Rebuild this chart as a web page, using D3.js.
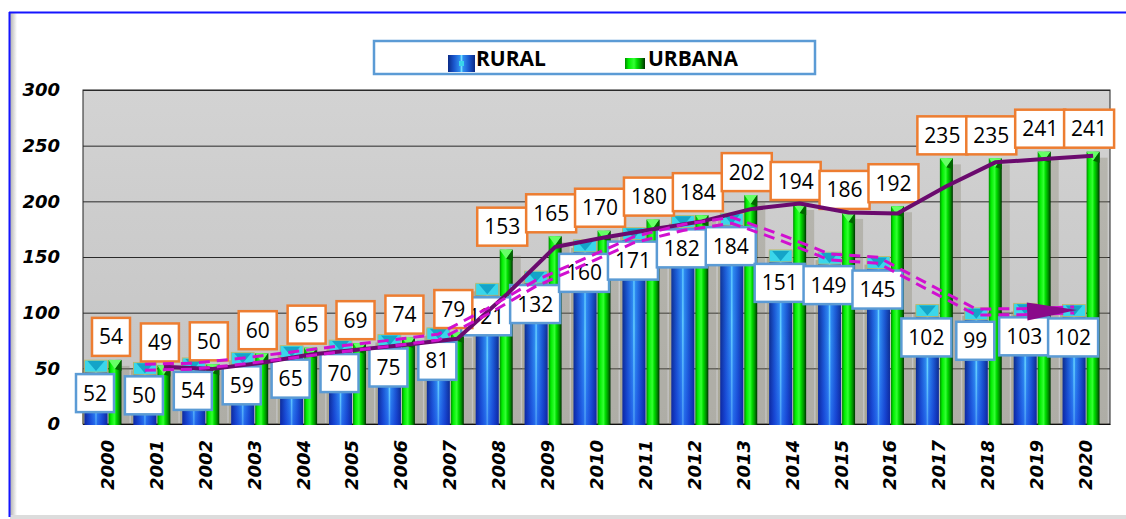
<!DOCTYPE html>
<html lang="es">
  <head>
    <meta charset="UTF-8" />
    <title>Rural / Urbana 2000-2020</title>
    <script src="https://d3js.org/d3.v7.min.js"></script>
    <style>
      body { margin: 0; background: #fff; }
      .ytick text, .xtick text {
        font-family: "DejaVu Sans", sans-serif;
        font-weight: bold;
        font-style: italic;
        font-size: 18px;
        fill: #000;
      }
      .grid line { stroke: #2a2a2a; stroke-width: 1; }
      .lbl text { font-family: "Open Sans", sans-serif; font-size: 21px; fill: #000; }
      .legend text { font-family: "Open Sans", sans-serif; font-weight: bold; font-size: 21px; }
    </style>
  </head>
  <body>
    <svg width="1126" height="519"></svg>
    <script>
      const width = 1126;
      const height = 519;

      // datos
      const years = ["2000", "2001", "2002", "2003", "2004", "2005", "2006", "2007", "2008", "2009",
        "2010", "2011", "2012", "2013", "2014", "2015", "2016", "2017", "2018", "2019", "2020"];
      const rural = [52, 50, 54, 59, 65, 70, 75, 81, 121, 132, 160, 171, 182, 184, 151, 149, 145, 102, 99, 103, 102];
      const urbana = [54, 49, 50, 60, 65, 69, 74, 79, 153, 165, 170, 180, 184, 202, 194, 186, 192, 235, 235, 241, 241];
      const yTicks = [0, 50, 100, 150, 200, 250, 300];

      const plot = { left: 83, right: 1110, top: 90, bottom: 424 };

      const svg = d3.select("svg");

      const x = d3.scaleBand().domain(years).range([plot.left, plot.right]).padding(0);
      const y = d3.scaleLinear().domain([0, 300]).range([plot.bottom, plot.top]);

      // posiciones dentro de cada categoria
      const blueX = (d) => x(d) + 1.5;
      const blueW = 23;
      const greenX = (d) => x(d) + 25.5;
      const greenW = 13;

      const defs = svg.append("defs");
      function grad(id, stops, vertical) {
        const g = defs.append("linearGradient").attr("id", id)
          .attr("x1", 0).attr("y1", 0)
          .attr("x2", vertical ? 0 : 1).attr("y2", vertical ? 1 : 0);
        stops.forEach((s) => g.append("stop").attr("offset", s[0]).attr("stop-color", s[1]).attr("stop-opacity", s[2] ?? 1));
      }
      grad("plotBg", [[0, "#d3d3d3"], [1, "#c3c3c3"]], true);
      grad("blueH", [[0, "#0b2a86"], [0.22, "#1a56cc"], [0.44, "#2f8ef0"], [0.5, "#6fe0ff"], [0.56, "#2f8ef0"], [0.78, "#1a56cc"], [1, "#0b2a86"]]);
      grad("blueV", [[0, "#30c0ff", 0.3], [0.5, "#2040ff", 0.05], [1, "#1020e0", 0.35]], true);
      grad("greenH", [[0, "#008a00"], [0.18, "#00ee00"], [0.45, "#33ff33"], [0.6, "#00dd00"], [0.8, "#009400"], [1, "#003000"]]);
      grad("frameShadow", [[0, "#b0b0b0"], [1, "#ffffff"]]);

      // marco del grafico
      svg.append("rect").attr("x", 10).attr("y", 13).attr("width", 7).attr("height", 503).attr("fill", "url(#frameShadow)");
      svg.append("rect").attr("x", 10).attr("y", 515).attr("width", 1116).attr("height", 4).attr("fill", "#dcdcdc");
      svg.append("line").attr("x1", 9.5).attr("x2", 9.5).attr("y1", 12).attr("y2", 517).attr("stroke", "#1515ff").attr("stroke-width", 2);
      svg.append("line").attr("x1", 9).attr("x2", width).attr("y1", 12.5).attr("y2", 12.5).attr("stroke", "#1515ff").attr("stroke-width", 2);

      // area de trazado
      svg.append("rect")
        .attr("x", plot.left).attr("y", plot.top)
        .attr("width", plot.right - plot.left).attr("height", plot.bottom - plot.top)
        .attr("fill", "url(#plotBg)").attr("stroke", "#222").attr("stroke-width", 1);

      svg.append("g").attr("class", "grid")
        .attr("transform", `translate(${plot.left},0)`)
        .call(d3.axisLeft(y).tickValues(yTicks).tickSize(-(plot.right - plot.left)).tickFormat(""))
        .call((g) => g.select(".domain").remove());

      // eje Y
      svg.append("g").attr("class", "ytick")
        .attr("transform", `translate(${plot.left},0)`)
        .call(d3.axisLeft(y).tickValues(yTicks).tickSize(0).tickPadding(23))
        .call((g) => g.select(".domain").remove());

      // eje X
      svg.append("g").attr("class", "xtick")
        .attr("transform", `translate(0,${plot.bottom})`)
        .call(d3.axisBottom(x).tickSize(0))
        .call((g) => g.select(".domain").attr("stroke", "#111"))
        .selectAll("text")
        .attr("transform", "rotate(-90)")
        .attr("text-anchor", "end")
        .attr("x", -16).attr("y", 0).attr("dy", "0.36em");

      // sombras
      svg.append("g").selectAll("rect").data(years).join("rect")
        .attr("x", (d) => greenX(d) + greenW)
        .attr("y", (d, i) => y(urbana[i]) + 2)
        .attr("width", 8)
        .attr("height", (d, i) => plot.bottom - y(urbana[i]) - 2)
        .attr("fill", "#7d7a62").attr("opacity", 0.3);
      svg.append("g").selectAll("rect").data(years).join("rect")
        .attr("x", (d) => x(d) - 1)
        .attr("y", (d, i) => y(rural[i]) + 2)
        .attr("width", 3)
        .attr("height", (d, i) => plot.bottom - y(rural[i]) - 2)
        .attr("fill", "#8a8660").attr("opacity", 0.45);

      // barras RURAL
      const rb = svg.append("g").selectAll("g").data(years).join("g");
      rb.append("rect")
        .attr("x", blueX).attr("y", (d, i) => y(rural[i]) - 5)
        .attr("width", blueW).attr("height", (d, i) => plot.bottom - y(rural[i]) + 6)
        .attr("fill", "url(#blueH)");
      rb.append("rect")
        .attr("x", blueX).attr("y", (d, i) => y(rural[i]) - 5)
        .attr("width", blueW).attr("height", (d, i) => plot.bottom - y(rural[i]) + 6)
        .attr("fill", "url(#blueV)");
      rb.append("rect")
        .attr("x", blueX).attr("y", (d, i) => y(rural[i]) - 6)
        .attr("width", blueW).attr("height", 12)
        .attr("fill", "#3ad6ea").attr("stroke", "#c8b860").attr("stroke-width", 0.8);
      rb.append("path")
        .attr("d", (d, i) => {
          const x0 = blueX(d), t = y(rural[i]) - 6;
          return `M${x0 + 3},${t + 1}L${x0 + blueW - 3},${t + 1}L${x0 + blueW / 2},${t + 11}Z`;
        })
        .attr("fill", "#14a4c8");

      // barras URBANA
      const gb = svg.append("g").selectAll("g").data(years).join("g");
      gb.append("rect")
        .attr("x", greenX).attr("y", (d, i) => y(urbana[i]) - 4)
        .attr("width", greenW).attr("height", (d, i) => plot.bottom - y(urbana[i]) + 5)
        .attr("fill", "url(#greenH)");
      gb.append("path")
        .attr("d", (d, i) => {
          const x0 = greenX(d), t = y(urbana[i]) - 4;
          return `M${x0},${t}L${x0 + greenW},${t}L${x0 + greenW / 2},${t + 9}Z`;
        })
        .attr("fill", "#66ff66");
      gb.append("path")
        .attr("d", (d, i) => {
          const x0 = greenX(d), t = y(urbana[i]) - 4;
          return `M${x0 + greenW},${t}L${x0 + greenW},${t + 11}L${x0 + greenW / 2},${t + 9}Z`;
        })
        .attr("fill", "#006600");

      // etiquetas de datos
      function labels(vals, cx, dy, color) {
        const g = svg.append("g").attr("class", "lbl").selectAll("g").data(years).join("g")
          .attr("transform", (d, i) => `translate(${cx(d)},${y(vals[i]) + dy})`);
        g.append("rect")
          .attr("x", (d, i) => -(14 + 12 * String(vals[i]).length) / 2)
          .attr("y", -19)
          .attr("width", (d, i) => 14 + 12 * String(vals[i]).length)
          .attr("height", 38)
          .attr("fill", "#fff").attr("stroke", color).attr("stroke-width", 2.5);
        g.append("text")
          .attr("text-anchor", "middle").attr("dy", "0.36em")
          .text((d, i) => vals[i]);
      }
      labels(rural, (d) => blueX(d) + blueW / 2 - 1, 27, "#5b9bd5");
      labels(urbana, (d) => greenX(d) + greenW / 2 - 4, -27, "#ed7d31");

      // medias moviles de 2 periodos
      const maR = years.map((d, i) => (i === 0 ? null : { year: d, v: (rural[i - 1] + rural[i]) / 2 })).filter(Boolean);
      const maU = years.map((d, i) => (i === 0 ? null : { year: d, v: (urbana[i - 1] + urbana[i]) / 2 })).filter(Boolean);

      const lineU = d3.line().x((p) => greenX(p.year) + greenW / 2).y((p) => y(p.v));
      svg.append("path").datum(maU).attr("d", lineU)
        .attr("fill", "none").attr("stroke", "#6b0a6e").attr("stroke-width", 4).attr("stroke-linejoin", "round");

      [-3, 3].forEach((off) => {
        const lineR = d3.line().x((p) => blueX(p.year) + blueW / 2).y((p) => y(p.v) + off);
        svg.append("path").datum(maR).attr("d", lineR)
          .attr("fill", "none").attr("stroke", "#d010d0").attr("stroke-width", 3)
          .attr("stroke-dasharray", "11,7");
      });

      // punta de flecha
      const pA = maR[maR.length - 2], pB = maR[maR.length - 1];
      const ax = blueX(pB.year) + blueW / 2 + 3, ay = y(pB.v);
      const ang = Math.atan2(y(pB.v) - y(pA.v), (blueX(pB.year) - blueX(pA.year))) * 180 / Math.PI;
      svg.append("path")
        .attr("d", "M0,0L-50,-9L-50,9Z")
        .attr("transform", `translate(${ax},${ay}) rotate(${ang})`)
        .attr("fill", "#8a0a8a");

      // leyenda
      const leg = svg.append("g").attr("class", "legend");
      leg.append("rect").attr("x", 374).attr("y", 41).attr("width", 441).attr("height", 33)
        .attr("fill", "#fff").attr("stroke", "#5b9bd5").attr("stroke-width", 2.5);
      leg.append("rect").attr("x", 448).attr("y", 55).attr("width", 27).attr("height", 17).attr("fill", "url(#blueH)");
      leg.append("rect").attr("x", 459).attr("y", 61).attr("width", 5).attr("height", 5).attr("fill", "#3ad6ea");
      leg.append("text").attr("x", 476).attr("y", 66).text("RURAL");
      leg.append("rect").attr("x", 625).attr("y", 58).attr("width", 20).attr("height", 11).attr("fill", "url(#greenH)");
      leg.append("text").attr("x", 648).attr("y", 66).text("URBANA");
    </script>
  </body>
</html>
